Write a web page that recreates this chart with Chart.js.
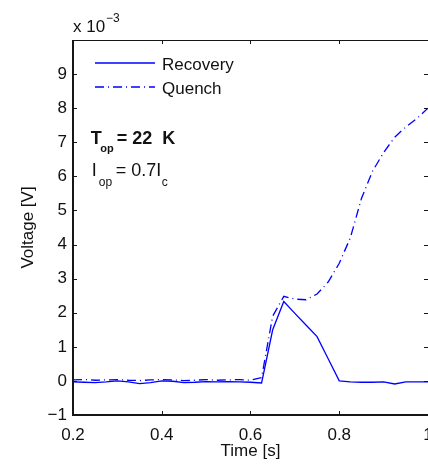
<!DOCTYPE html>
<html>
<head>
<meta charset="utf-8">
<title>Recovery / Quench voltage</title>
<script src="https://cdn.jsdelivr.net/npm/chart.js@4.4.1/dist/chart.umd.min.js"></script>
<style>
  html, body { margin: 0; padding: 0; background: #fff; }
  canvas { display: block; }
</style>
</head>
<body>
<canvas id="voltageChart" width="428" height="464"></canvas>
<script>
  // Time samples [s]
  const times = [0.2, 0.225, 0.25, 0.275, 0.3, 0.325, 0.35, 0.375, 0.4, 0.425, 0.45,
    0.475, 0.5, 0.525, 0.55, 0.575, 0.6, 0.625, 0.65, 0.675, 0.7, 0.725, 0.75,
    0.775, 0.8, 0.825, 0.85, 0.875, 0.9, 0.925, 0.95, 0.975, 1.0];

  // Voltage, in units of 1e-3 V
  const recoveryValues = [-0.03, -0.04, -0.05, -0.03, 0.0, -0.03, -0.08, -0.05, 0.0, -0.01, -0.05,
    -0.04, -0.02, -0.03, -0.02, -0.03, -0.04, -0.06, 1.5, 2.33, 1.98, 1.64, 1.3,
    0.65, 0.0, -0.03, -0.04, -0.04, -0.03, -0.09, -0.03, -0.03, -0.03];
  const quenchValues = [0.03, 0.04, 0.02, 0.03, 0.04, 0.02, 0.01, 0.03, 0.04, 0.03, 0.01,
    0.02, 0.04, 0.02, 0.03, 0.04, 0.02, 0.1, 1.9, 2.48, 2.4, 2.38, 2.55,
    2.9, 3.45, 4.2, 5.35, 6.15, 6.7, 7.15, 7.45, 7.7, 8.0];

  const seriesLabels = ['Recovery', 'Quench'];
  const xTicks = [0.2, 0.4, 0.6, 0.8, 1.0];
  const yTicks = [-1, 0, 1, 2, 3, 4, 5, 6, 7, 8, 9];

  const FONT = '"Liberation Sans", Arial, Helvetica, sans-serif';
  const BLUE = '#0000ff';
  const DASH_DOT = [9, 4, 1, 4];

  // matlab-ish box with inward ticks, in-plot legend and text notes
  const matlabAxes = {
    id: 'matlabAxes',
    afterDraw(chart) {
      const { ctx, chartArea: a, scales: { x, y } } = chart;
      ctx.save();
      ctx.strokeStyle = '#161616';

      ctx.lineWidth = 2;
      ctx.beginPath();
      ctx.moveTo(a.left, a.top);
      ctx.lineTo(a.left, a.bottom);
      ctx.lineTo(a.right, a.bottom);
      ctx.stroke();

      ctx.lineWidth = 1;
      ctx.beginPath();
      ctx.moveTo(a.left, a.top + 0.5);
      ctx.lineTo(a.right, a.top + 0.5);
      ctx.stroke();

      // inward ticks on all four sides
      const len = 4;
      ctx.beginPath();
      xTicks.forEach(v => {
        const px = Math.round(x.getPixelForValue(v)) + 0.5;
        ctx.moveTo(px, a.bottom); ctx.lineTo(px, a.bottom - len);
        ctx.moveTo(px, a.top); ctx.lineTo(px, a.top + len);
      });
      yTicks.forEach(v => {
        const py = Math.round(y.getPixelForValue(v)) + 0.5;
        ctx.moveTo(a.left, py); ctx.lineTo(a.left + len, py);
        ctx.moveTo(a.right, py); ctx.lineTo(a.right - len, py);
      });
      ctx.stroke();

      // exponent above the axis
      ctx.fillStyle = '#111';
      ctx.textBaseline = 'alphabetic';
      ctx.textAlign = 'left';
      ctx.font = '17px ' + FONT;
      ctx.fillText('x 10', a.left, a.top - 8);
      ctx.font = '12px ' + FONT;
      ctx.fillText('\u22123', a.left + 33, a.top - 18);

      // legend (no box)
      chart.data.datasets.forEach((ds, i) => {
        const ly = a.top + 23 + i * 24;
        ctx.save();
        ctx.strokeStyle = ds.borderColor;
        ctx.lineWidth = 1.4;
        ctx.setLineDash(ds.borderDash || []);
        ctx.beginPath();
        ctx.moveTo(a.left + 22, ly);
        ctx.lineTo(a.left + 82, ly);
        ctx.stroke();
        ctx.restore();
        ctx.font = '17px ' + FONT;
        ctx.textBaseline = 'middle';
        ctx.fillText(ds.label, a.left + 89, ly + 2);
      });

      // operating conditions
      ctx.textBaseline = 'alphabetic';
      const tx = x.getPixelForValue(0.24);
      let ty = y.getPixelForValue(6.95);
      ctx.font = 'bold 18px ' + FONT;
      ctx.fillText('T', tx, ty);
      ctx.font = 'bold 11px ' + FONT;
      ctx.fillText('op', tx + 9.5, ty + 8);
      ctx.font = 'bold 18px ' + FONT;
      ctx.fillText('= 22  K', tx + 26, ty);

      ty = y.getPixelForValue(6.0);
      ctx.font = '18px ' + FONT;
      ctx.fillText('I', tx + 1, ty);
      ctx.font = '12px ' + FONT;
      ctx.fillText('op', tx + 8, ty + 10);
      ctx.font = '18px ' + FONT;
      ctx.fillText('= 0.7I', tx + 25, ty);
      ctx.font = '12px ' + FONT;
      ctx.fillText('c', tx + 71, ty + 10);

      ctx.restore();
    }
  };

  function createVoltageChart() {
    const ctx = document.getElementById('voltageChart').getContext('2d');

    new Chart(ctx, {
      type: 'line',
      data: {
        datasets: [
          {
            label: seriesLabels[0],
            data: times.map((t, i) => ({ x: t, y: recoveryValues[i] })),
            borderColor: BLUE,
            borderWidth: 1.3,
          },
          {
            label: seriesLabels[1],
            data: times.map((t, i) => ({ x: t, y: quenchValues[i] })),
            borderColor: BLUE,
            borderWidth: 1.3,
            borderDash: DASH_DOT,
          },
        ],
      },
      options: {
        responsive: false,
        animation: false,
        layout: { padding: { top: 40, right: 0, left: 0, bottom: 0 } },
        elements: { point: { radius: 0 }, line: { tension: 0 } },
        plugins: { legend: { display: false }, tooltip: { enabled: false } },
        scales: {
          x: {
            type: 'linear',
            min: 0.2,
            max: 1.0,
            afterBuildTicks: s => { s.ticks = xTicks.map(v => ({ value: v })); },
            afterFit: s => { s.height = 49; s.paddingLeft = 0; s.paddingRight = 0; },
            grid: { display: false, drawTicks: false },
            border: { display: false },
            ticks: {
              color: '#111',
              padding: 10,
              maxRotation: 0,
              autoSkip: false,
              font: { family: FONT, size: 17 },
              callback: v => (v === 1 ? '1' : v.toFixed(1)),
            },
            title: {
              display: true,
              text: 'Time [s]',
              color: '#111',
              font: { family: FONT, size: 17 },
              padding: { top: 0, bottom: 2 },
            },
          },
          y: {
            min: -1,
            max: 10,
            afterBuildTicks: s => { s.ticks = yTicks.map(v => ({ value: v })); },
            afterFit: s => { s.width = 73; s.paddingTop = 0; s.paddingBottom = 0; },
            grid: { display: false, drawTicks: false },
            border: { display: false },
            ticks: {
              color: '#111',
              padding: 6,
              autoSkip: false,
              font: { family: FONT, size: 17 },
              callback: v => (v < 0 ? '\u2212' + Math.abs(v) : String(v)),
            },
            title: {
              display: true,
              text: 'Voltage [V]',
              color: '#111',
              font: { family: FONT, size: 17 },
              padding: { top: 18, bottom: 0 },
            },
          },
        },
      },
      plugins: [matlabAxes],
    });
  }

  // Wait for the DOM to be ready before creating the chart
  document.addEventListener('DOMContentLoaded', () => {
    createVoltageChart();
  });
</script>
</body>
</html>
